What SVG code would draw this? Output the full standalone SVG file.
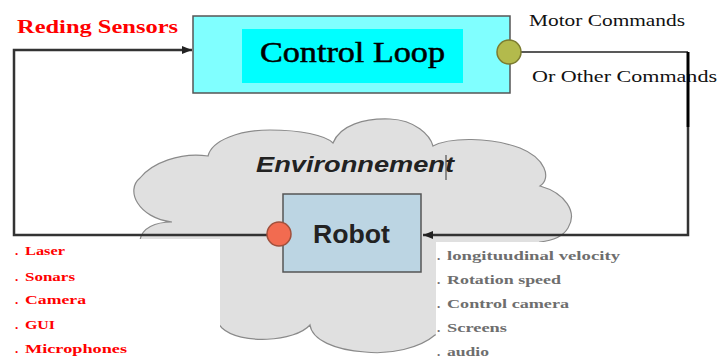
<svg xmlns="http://www.w3.org/2000/svg" width="717" height="360" viewBox="0 0 717 360">
<defs>
<style>
.red{fill:#ff0000;font-family:"Liberation Serif",serif;font-weight:bold;font-size:13px;}
.grey{fill:#6e6e6e;font-family:"Liberation Serif",serif;font-weight:bold;font-size:13px;}
.blk{fill:#111;font-family:"Liberation Serif",serif;font-size:16px;}
.conn{fill:none;stroke:#333;stroke-width:2.5;}
</style>
<marker id="arr" markerWidth="10" markerHeight="8" refX="10" refY="4" orient="auto" markerUnits="userSpaceOnUse">
<path d="M0,0 L10,4 L0,8 Z" fill="#222"/>
</marker>
</defs>
<rect width="717" height="360" fill="#fff"/>
<g id="environment">
<path d="M 140 240 C 142 228, 155 222, 172 222 C 138 218, 125 190, 140 178 C 152 163, 180 152, 208 156 C 212 140, 240 130, 270 130 C 300 130, 325 135, 333 143 C 340 125, 365 118, 390 119 C 415 120, 430 135, 433 146 C 450 137, 490 137, 520 148 C 545 158, 552 178, 540 186 C 565 193, 578 212, 568 228 C 562 238, 550 241, 540 242 C 560 280, 490 330, 435 335 C 420 348, 390 355, 365 352 C 335 350, 312 340, 310 325 C 295 342, 240 345, 222 328 C 205 310, 180 270, 140 240 Z" fill="#e0e0e0" stroke="#8a8a8a" stroke-width="1.2"/>
<text x="256" y="172" font-family="Liberation Sans, Arial, sans-serif" font-style="italic" font-weight="bold" font-size="22" fill="#222" textLength="198" lengthAdjust="spacingAndGlyphs">Environnement</text>
<line x1="446" y1="155" x2="446" y2="180" stroke="#333" stroke-width="1"/>
</g>
<rect x="0" y="239" width="220" height="121" fill="#fff"/>
<rect x="436" y="242" width="281" height="118" fill="#fff"/>
<g id="labels">
<text x="17" y="33" fill="#ff0000" font-family="Liberation Serif, serif" font-weight="bold" font-size="19" textLength="161" lengthAdjust="spacingAndGlyphs">Reding Sensors</text>
<text class="blk" x="529" y="26" textLength="156" lengthAdjust="spacingAndGlyphs">Motor Commands</text>
<text class="blk" x="532" y="82" font-size="17" textLength="185" lengthAdjust="spacingAndGlyphs">Or Other Commands</text>
<text class="red" x="15" y="255">. <tspan x="25" textLength="40" lengthAdjust="spacingAndGlyphs">Laser</tspan></text>
<text class="red" x="15" y="281">. <tspan x="25" textLength="50" lengthAdjust="spacingAndGlyphs">Sonars</tspan></text>
<text class="red" x="15" y="304">. <tspan x="25" textLength="61" lengthAdjust="spacingAndGlyphs">Camera</tspan></text>
<text class="red" x="15" y="329">. <tspan x="25" textLength="30" lengthAdjust="spacingAndGlyphs">GUI</tspan></text>
<text class="red" x="15" y="353">. <tspan x="25" textLength="102" lengthAdjust="spacingAndGlyphs">Microphones</tspan></text>
<text class="grey" x="437" y="260">. <tspan x="447" textLength="173" lengthAdjust="spacingAndGlyphs">longituudinal velocity</tspan></text>
<text class="grey" x="437" y="284">. <tspan x="447" textLength="114" lengthAdjust="spacingAndGlyphs">Rotation speed</tspan></text>
<text class="grey" x="437" y="308">. <tspan x="447" textLength="122" lengthAdjust="spacingAndGlyphs">Control camera</tspan></text>
<text class="grey" x="437" y="332">. <tspan x="447" textLength="60" lengthAdjust="spacingAndGlyphs">Screens</tspan></text>
<text class="grey" x="437" y="356">. <tspan x="447" textLength="42" lengthAdjust="spacingAndGlyphs">audio</tspan></text>
</g>
<g id="connectors">
<polyline class="conn" points="267,235 14,235 14,50 192,50" marker-end="url(#arr)"/>
<line x1="521" y1="52" x2="688" y2="52" stroke="#222" stroke-width="1.6"/>
<line x1="688" y1="52" x2="688" y2="127" stroke="#000" stroke-width="3"/>
<polyline class="conn" points="688,127 688,235 423,235" marker-end="url(#arr)"/>
</g>
<g id="control-loop">
<rect x="193" y="16" width="317" height="77" fill="#80ffff" stroke="#555" stroke-width="1.5"/>
<rect x="242" y="29" width="221" height="54" fill="#00ffff"/>
<text x="260" y="62" font-family="Liberation Serif, serif" font-size="29" fill="#000" stroke="#000" stroke-width="0.5" textLength="185" lengthAdjust="spacingAndGlyphs">Control Loop</text>
<circle cx="509" cy="52" r="12" fill="#b3ba4c" stroke="#7c7c30" stroke-width="1.5"/>
</g>
<g id="robot">
<rect x="283" y="194" width="138" height="78" fill="#bcd5e3" stroke="#555" stroke-width="1.5"/>
<text x="313" y="243" font-family="Liberation Sans, Arial, sans-serif" font-weight="bold" font-size="25" fill="#222" textLength="77" lengthAdjust="spacingAndGlyphs">Robot</text>
<circle cx="279" cy="234" r="12" fill="#f26b50" stroke="#a0503c" stroke-width="1.5"/>
</g>
</svg>
